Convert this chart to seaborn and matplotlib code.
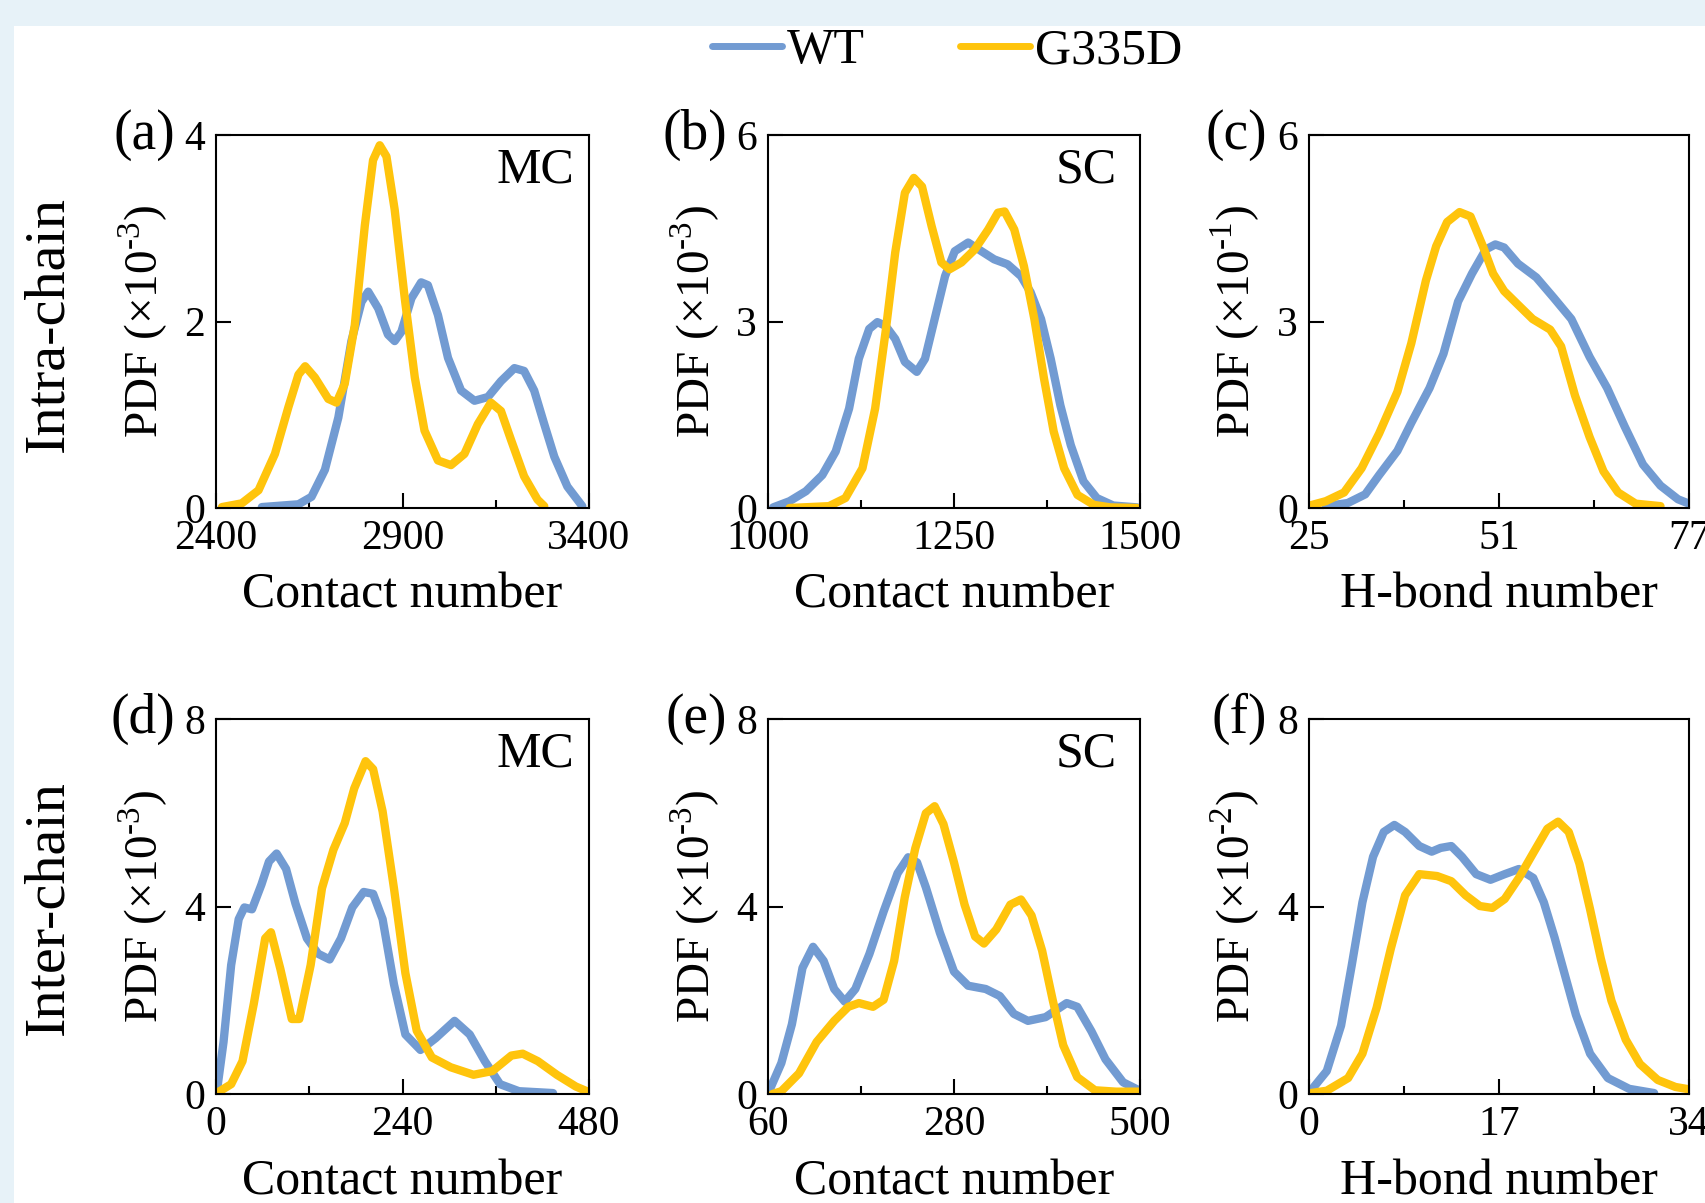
import numpy as np
import matplotlib
matplotlib.use("Agg")
import matplotlib.pyplot as plt
import seaborn as sns
from matplotlib.patches import Rectangle
from matplotlib.lines import Line2D
from matplotlib.ticker import FixedLocator

sns.set_style("ticks")
plt.rcParams['font.family'] = ['Liberation Serif', 'DejaVu Serif']
plt.rcParams['mathtext.fontset'] = 'custom'
plt.rcParams['mathtext.rm'] = 'Liberation Serif'
for key in ['text.color', 'axes.labelcolor', 'xtick.color', 'ytick.color']:
    plt.rcParams[key] = 'black'

series_names = ['WT', 'G335D']
colors = ['#729bd2', '#ffc40c']

# (a) intra-chain MC contact number, PDF x1e-3
a_wt_x = [2523, 2621, 2656, 2692, 2728, 2763, 2790, 2808, 2835, 2861, 2879, 2897, 2924, 2950,
          2968, 2995, 3022, 3057, 3093, 3129, 3164, 3200, 3226, 3253, 3280, 3307, 3342, 3382]
a_wt_y = [0.01, 0.04, 0.12, 0.41, 0.97, 1.79, 2.21, 2.32, 2.14, 1.86, 1.79, 1.89, 2.25, 2.42,
          2.39, 2.07, 1.61, 1.26, 1.15, 1.19, 1.36, 1.50, 1.47, 1.26, 0.90, 0.55, 0.23, 0.02]
a_mu_x = [2416, 2469, 2514, 2558, 2594, 2621, 2639, 2665, 2701, 2723, 2745, 2772, 2799, 2821, 2839,
          2857, 2879, 2906, 2933, 2959, 2995, 3030, 3066, 3102, 3137, 3164, 3191, 3226, 3262, 3280]
a_mu_y = [0.01, 0.05, 0.19, 0.58, 1.08, 1.43, 1.52, 1.40, 1.17, 1.13, 1.33, 1.96, 3.03, 3.73, 3.89,
          3.77, 3.20, 2.25, 1.40, 0.83, 0.51, 0.46, 0.58, 0.90, 1.13, 1.04, 0.73, 0.34, 0.09, 0.02]

# (b) intra-chain SC contact number, PDF x1e-3
b_wt_x = [1007, 1029, 1051, 1073, 1091, 1109, 1122, 1136, 1147, 1158, 1171, 1184, 1200, 1211, 1224, 1238,
          1251, 1269, 1287, 1304, 1322, 1340, 1353, 1367, 1380, 1393, 1407, 1424, 1442, 1464, 1496]
b_wt_y = [0.01, 0.11, 0.27, 0.53, 0.91, 1.60, 2.40, 2.88, 2.99, 2.93, 2.72, 2.35, 2.19, 2.40, 3.04, 3.73,
          4.13, 4.27, 4.13, 4.00, 3.92, 3.73, 3.47, 3.04, 2.40, 1.65, 1.01, 0.43, 0.16, 0.04, 0.01]
b_mu_x = [1029, 1082, 1104, 1127, 1144, 1158, 1171, 1184, 1196, 1207, 1220, 1233, 1244, 1260, 1278,
          1296, 1309, 1318, 1331, 1344, 1358, 1371, 1384, 1398, 1416, 1438, 1460, 1496]
b_mu_y = [0.00, 0.03, 0.16, 0.64, 1.60, 2.83, 4.11, 5.07, 5.31, 5.17, 4.53, 3.95, 3.84, 3.95, 4.16,
          4.48, 4.75, 4.77, 4.48, 3.89, 3.04, 2.08, 1.23, 0.64, 0.21, 0.05, 0.01, 0.00]

# (c) intra-chain H-bond number, PDF x1e-1
c_wt_x = [27.3, 30.3, 32.7, 34.6, 37.1, 39.0, 41.5, 43.4, 45.4, 47.3, 49.2, 50.5, 51.7, 53.6,
          56.1, 58.5, 60.9, 63.4, 65.8, 68.2, 70.7, 73.1, 75.5, 77.0]
c_wt_y = [0.03, 0.08, 0.22, 0.53, 0.92, 1.37, 1.93, 2.48, 3.32, 3.77, 4.16, 4.24, 4.19, 3.93,
          3.71, 3.38, 3.04, 2.43, 1.93, 1.31, 0.70, 0.36, 0.14, 0.07]
c_mu_x = [25.1, 27.3, 29.8, 32.2, 34.6, 37.1, 39.0, 41.0, 42.4, 43.9, 45.6, 47.1, 48.8, 50.2,
          51.7, 53.6, 55.6, 58.0, 59.5, 61.4, 63.4, 65.3, 67.3, 69.7, 73.1]
c_mu_y = [0.04, 0.11, 0.25, 0.64, 1.20, 1.87, 2.65, 3.66, 4.21, 4.60, 4.76, 4.69, 4.21, 3.77,
          3.49, 3.27, 3.04, 2.87, 2.60, 1.81, 1.14, 0.59, 0.25, 0.07, 0.03]

# (d) inter-chain MC contact number, PDF x1e-3
d_wt_x = [1, 9.7, 19.5, 29.2, 36.5, 46.3, 58.5, 68.2, 78.0, 90.2, 102.3, 117.0, 131.6, 146.2, 160.8,
          175.4, 190.1, 202.2, 214.4, 229.0, 243.7, 263.1, 282.6, 307.0, 326.5, 346.0, 365.5, 389.8, 433.7]
d_wt_y = [0.04, 1.11, 2.75, 3.73, 3.98, 3.94, 4.47, 4.96, 5.13, 4.80, 4.06, 3.32, 2.99, 2.87, 3.32,
          3.98, 4.31, 4.27, 3.73, 2.34, 1.27, 0.94, 1.19, 1.56, 1.27, 0.70, 0.21, 0.06, 0.02]
d_mu_x = [1, 19.5, 34.1, 48.7, 63.3, 70.7, 82.8, 97.5, 107.2, 121.8, 136.4, 151.1, 165.7, 177.9, 192.5,
          202.2, 214.4, 229.0, 243.7, 258.3, 277.8, 302.1, 331.4, 355.7, 380.1, 394.7, 414.2, 438.6, 463.0, 480]
d_mu_y = [0.02, 0.21, 0.70, 1.93, 3.32, 3.45, 2.67, 1.60, 1.60, 2.75, 4.39, 5.21, 5.78, 6.52, 7.10,
          6.93, 6.03, 4.39, 2.58, 1.35, 0.78, 0.57, 0.41, 0.49, 0.82, 0.86, 0.70, 0.41, 0.16, 0.04]

# (e) inter-chain SC contact number, PDF x1e-3
e_wt_x = [61.3, 75.8, 88.3, 100.8, 113.3, 125.8, 138.3, 150.8, 163.3, 180.0, 196.7, 213.3, 225.8, 236.3, 246.7,
          263.3, 280.0, 296.7, 317.5, 334.2, 350.8, 367.5, 388.3, 413.3, 425.8, 442.5, 459.2, 480.0, 498.7]
e_wt_y = [0.06, 0.66, 1.49, 2.69, 3.14, 2.84, 2.24, 1.97, 2.24, 2.99, 3.89, 4.71, 5.05, 4.94, 4.41,
          3.44, 2.61, 2.31, 2.24, 2.09, 1.71, 1.56, 1.64, 1.94, 1.86, 1.34, 0.74, 0.25, 0.08]
e_mu_x = [65.4, 75.8, 96.7, 117.5, 138.3, 155.0, 167.5, 184.2, 196.7, 209.2, 221.7, 234.2, 246.7, 257.1, 267.5,
          280.0, 292.5, 305.0, 315.4, 330.0, 346.7, 359.2, 371.7, 384.2, 396.7, 409.2, 425.8, 446.7, 471.7, 498.7]
e_mu_y = [0.00, 0.06, 0.44, 1.11, 1.56, 1.86, 1.94, 1.86, 2.01, 2.84, 4.19, 5.24, 5.99, 6.14, 5.76,
          4.94, 4.04, 3.36, 3.21, 3.51, 4.04, 4.15, 3.81, 3.06, 2.01, 1.04, 0.36, 0.08, 0.05, 0.05]

# (f) inter-chain H-bond number, PDF x1e-2
f_wt_x = [0.16, 1.59, 2.87, 3.82, 4.78, 5.73, 6.69, 7.64, 8.60, 9.87, 10.98, 11.78, 12.73, 13.69,
          14.96, 16.24, 17.51, 18.78, 20.06, 21.01, 21.97, 22.93, 23.88, 25.15, 26.74, 28.65, 30.88]
f_wt_y = [0.07, 0.49, 1.46, 2.74, 4.09, 5.06, 5.59, 5.74, 5.59, 5.29, 5.17, 5.25, 5.29, 5.06,
          4.69, 4.57, 4.69, 4.80, 4.61, 4.09, 3.34, 2.51, 1.69, 0.86, 0.34, 0.11, 0.02]
f_mu_x = [0.16, 1.59, 3.50, 4.78, 6.05, 7.33, 8.60, 9.87, 11.46, 12.73, 14.01, 15.28, 16.40, 17.51,
          18.78, 20.06, 21.33, 22.29, 23.24, 24.20, 25.15, 26.11, 27.06, 28.34, 29.61, 31.20, 32.79, 34.0]
f_mu_y = [0.02, 0.07, 0.34, 0.86, 1.84, 3.11, 4.24, 4.69, 4.65, 4.54, 4.24, 4.01, 3.97, 4.16,
          4.61, 5.14, 5.66, 5.81, 5.59, 4.91, 3.94, 2.89, 1.99, 1.16, 0.64, 0.30, 0.15, 0.10]

panel_tags = ['(a)', '(b)', '(c)', '(d)', '(e)', '(f)']
panel_notes = ['MC', 'SC', '', 'MC', 'SC', '']
x_titles = ['Contact number', 'Contact number', 'H-bond number',
            'Contact number', 'Contact number', 'H-bond number']
y_exps = ['-3', '-3', '-1', '-3', '-3', '-2']
x_ranges = [(2400, 3400), (1000, 1500), (25, 77), (0, 480), (60, 500), (0, 34)]
y_tops = [4, 6, 6, 8, 8, 8]
row_titles = ['Intra-chain', 'Inter-chain']

curves = [
    (a_wt_x, a_wt_y, a_mu_x, a_mu_y),
    (b_wt_x, b_wt_y, b_mu_x, b_mu_y),
    (c_wt_x, c_wt_y, c_mu_x, c_mu_y),
    (d_wt_x, d_wt_y, d_mu_x, d_mu_y),
    (e_wt_x, e_wt_y, e_mu_x, e_mu_y),
    (f_wt_x, f_wt_y, f_mu_x, f_mu_y),
]

W, H = 1705, 1203
fig = plt.figure(figsize=(W / 100, H / 100), dpi=100)
fig.patch.set_facecolor('#e7f2f8')
fig.patches.append(Rectangle((14 / W, 0), 1, 1 - 26 / H, transform=fig.transFigure,
                             facecolor='white', edgecolor='none', zorder=-10))

col_px = [(216, 589), (768, 1140), (1309, 1689)]
row_px = [(135, 508), (719, 1094)]

for i in range(6):
    r, c = divmod(i, 3)
    x0, x1 = col_px[c]
    t, b = row_px[r]
    ax = fig.add_axes([x0 / W, 1 - b / H, (x1 - x0) / W, (b - t) / H])
    ax.set_facecolor('none')
    wx, wy, mx, my = curves[i]
    for xs, ys, col in [(wx, wy, colors[0]), (mx, my, colors[1])]:
        sns.lineplot(x=xs, y=ys, ax=ax, color=col, lw=6, sort=False, estimator=None,
                     solid_joinstyle='round', solid_capstyle='round')
    lo, hi = x_ranges[i]
    ax.set_xlim(lo, hi)
    ax.set_ylim(0, y_tops[i])
    ax.set_xticks([lo, (lo + hi) / 2, hi])
    ax.set_xticklabels([str(lo), str(int((lo + hi) / 2)), str(hi)])
    ax.xaxis.set_minor_locator(FixedLocator([lo + (hi - lo) / 4, lo + 3 * (hi - lo) / 4]))
    ax.set_yticks([0, y_tops[i] // 2, y_tops[i]])
    ax.tick_params(which='major', direction='in', length=11, width=1.5, labelsize=30, pad=8)
    ax.tick_params(which='minor', direction='in', length=6, width=1.5)
    for s in ax.spines.values():
        s.set_linewidth(1.5)
        s.set_color('black')
    ax.set_xlabel('')
    ax.set_ylabel('')
    ax.text(0.5, -0.235, x_titles[i], transform=ax.transAxes, ha='center', va='center', fontsize=36)
    ax.text(-0.195, 0.5, 'PDF (×10$^{\\text{' + y_exps[i] + '}}$)', transform=ax.transAxes,
            rotation=90, ha='center', va='center', fontsize=34)
    ax.text(-0.11, 1.0, panel_tags[i], transform=ax.transAxes, ha='right', va='center', fontsize=40)
    if panel_notes[i]:
        ax.text(0.855, 0.905, panel_notes[i], transform=ax.transAxes, ha='center', va='center', fontsize=36)

fig.text(48 / W, 1 - 324 / H, row_titles[0], rotation=90, ha='center', va='center', fontsize=42)
fig.text(48 / W, 1 - 908 / H, row_titles[1], rotation=90, ha='center', va='center', fontsize=42)

handles = [Line2D([], [], color=colors[k], lw=5) for k in range(2)]
fig.legend(handles, series_names, loc='center', bbox_to_anchor=(947 / W, 1 - 51 / H), ncol=2,
           frameon=False, fontsize=36, handlelength=1.4, handletextpad=0.1, columnspacing=1.9)

fig.savefig('out.png', dpi=100, facecolor=fig.get_facecolor())
